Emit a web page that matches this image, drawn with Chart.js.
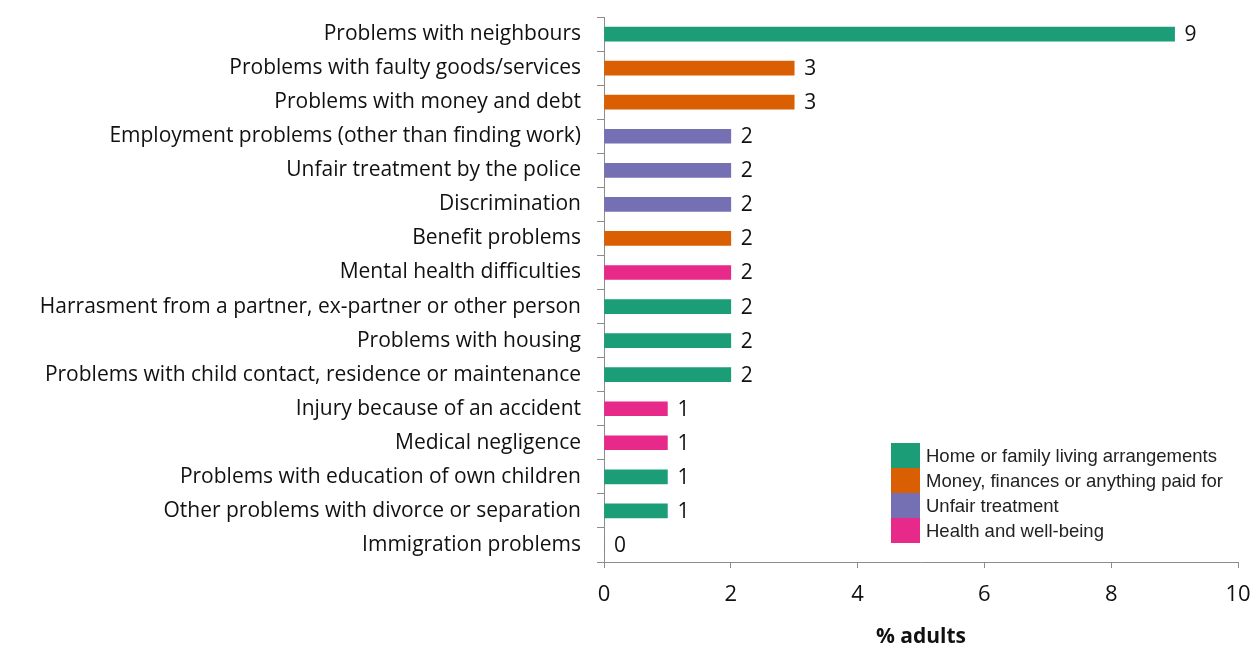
<!DOCTYPE html>
<html>
<head>
<meta charset="utf-8">
<script src="https://cdn.jsdelivr.net/npm/chart.js@4.4.1/dist/chart.umd.min.js"></script>
<style>
    html, body { margin: 0; padding: 0; background: #fff; }
    #wrap { position: relative; width: 1253px; height: 646px; }
    #legend {
        position: absolute; left: 891px; top: 443px;
        font-family: "Liberation Sans", Arial, sans-serif; font-size: 18.5px; color: #222;
    }
    #legend .row { display: flex; align-items: center; height: 25px; white-space: nowrap; }
    #legend .box { width: 29px; height: 25px; margin-right: 6px; flex: none; }
</style>
</head>
<body>
<div id="wrap">
    <canvas id="chart" width="1253" height="646"></canvas>
    <div id="legend"></div>
</div>
<script>
    const problems = [
        'Problems with neighbours',
        'Problems with faulty goods/services',
        'Problems with money and debt',
        'Employment problems (other than finding work)',
        'Unfair treatment by the police',
        'Discrimination',
        'Benefit problems',
        'Mental health difficulties',
        'Harrasment from a partner, ex-partner or other person',
        'Problems with housing',
        'Problems with child contact, residence or maintenance',
        'Injury because of an accident',
        'Medical negligence',
        'Problems with education of own children',
        'Other problems with divorce or separation',
        'Immigration problems'
    ];
    const percentAdults = [9, 3, 3, 2, 2, 2, 2, 2, 2, 2, 2, 1, 1, 1, 1, 0];
    // group index per problem (see groupNames)
    const problemGroup = [0, 1, 1, 2, 2, 2, 1, 3, 0, 0, 0, 3, 3, 0, 0, 2];
    const groupNames = [
        'Home or family living arrangements',
        'Money, finances or anything paid for',
        'Unfair treatment',
        'Health and well-being'
    ];
    const groupColors = ['#1b9e77', '#d95f02', '#7570b3', '#e7298a'];
    const xTicks = [0, 2, 4, 6, 8, 10];

    const LABEL_FONT = '"Open Sans", Lato, sans-serif';
    const AXIS_COLOR = '#8c8c8c';

    // value printed just past the end of each bar
    const valueLabels = {
        id: 'valueLabels',
        afterDatasetsDraw(chart) {
            const { ctx } = chart;
            const meta = chart.getDatasetMeta(0);
            ctx.save();
            ctx.font = '21px ' + LABEL_FONT;
            ctx.fillStyle = '#111';
            ctx.textAlign = 'left';
            ctx.textBaseline = 'middle';
            meta.data.forEach((bar, i) => {
                ctx.fillText(String(percentAdults[i]), bar.x + 10, bar.y + 1);
            });
            ctx.restore();
        }
    };

    new Chart(document.getElementById('chart'), {
        type: 'bar',
        data: {
            labels: problems,
            datasets: [{
                data: percentAdults,
                backgroundColor: problemGroup.map(g => groupColors[g]),
                barThickness: 14,
                borderWidth: 0
            }]
        },
        options: {
            indexAxis: 'y',
            responsive: false,
            animation: false,
            layout: { padding: { top: 17, right: 15, bottom: 0, left: 0 } },
            plugins: {
                legend: { display: false },
                tooltip: { enabled: false }
            },
            scales: {
                x: {
                    min: 0,
                    max: 10,
                    afterBuildTicks: scale => { scale.ticks = xTicks.map(v => ({ value: v })); },
                    afterFit: scale => { scale.height = 84; },
                    border: { color: AXIS_COLOR, width: 1 },
                    grid: { drawOnChartArea: false, tickLength: 6, color: AXIS_COLOR },
                    // tall line height drops the labels lower without extra side padding
                    ticks: { color: '#111', font: { family: LABEL_FONT, size: 22, lineHeight: 2.45 }, padding: 0, maxRotation: 0 },
                    title: {
                        display: true,
                        text: '% adults',
                        color: '#111',
                        font: { family: LABEL_FONT, size: 21, weight: 'bold', lineHeight: 0.85 },
                        padding: { top: 0, bottom: 0 }
                    }
                },
                y: {
                    afterFit: scale => { scale.width = 604; },
                    border: { color: AXIS_COLOR, width: 1 },
                    grid: { drawOnChartArea: false, tickLength: 7, color: AXIS_COLOR },
                    ticks: { color: '#111', font: { family: LABEL_FONT, size: 21, lineHeight: 0.1 }, padding: 16, autoSkip: false }
                }
            }
        },
        plugins: [valueLabels]
    });

    const legend = document.getElementById('legend');
    groupNames.forEach((name, i) => {
        const row = document.createElement('div');
        row.className = 'row';
        row.innerHTML = '<span class="box" style="background:' + groupColors[i] + '"></span><span>' + name + '</span>';
        legend.appendChild(row);
    });
</script>
</body>
</html>
